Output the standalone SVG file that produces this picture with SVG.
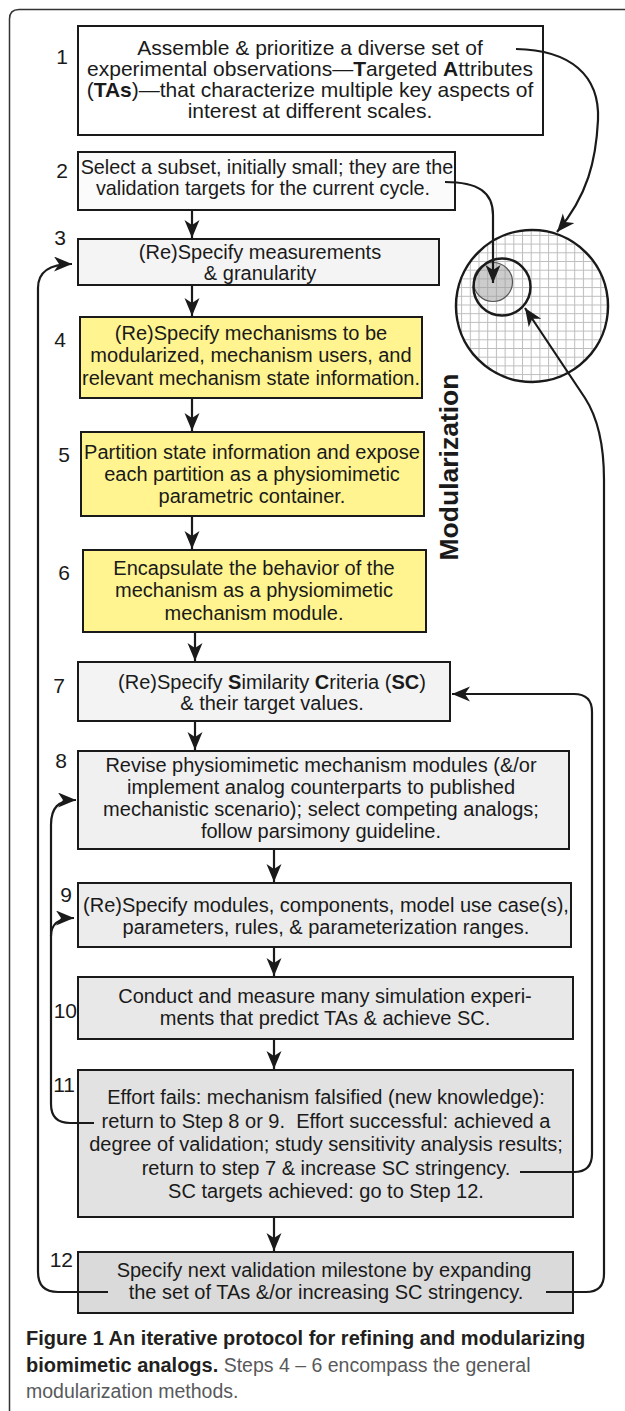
<svg xmlns="http://www.w3.org/2000/svg" width="625" height="1411" viewBox="0 0 625 1411">
<defs>
<style>
.box{stroke:#1a1a1a;stroke-width:2}
.t{font-family:"Liberation Sans",Arial,sans-serif;font-size:20px;fill:#1a1a1a;text-anchor:middle}
.t1{font-size:21px}
.t2{font-size:19.8px}
.n{font-family:"Liberation Sans",Arial,sans-serif;font-size:21px;fill:#1a1a1a;text-anchor:middle}
.ne{text-anchor:end}
.b{font-weight:bold}
.c{fill:none;stroke:#1a1a1a;stroke-width:2.2}
.ca{marker-end:url(#ah)}
.cap{font-family:"Liberation Sans",Arial,sans-serif;font-size:19.5px;fill:#58595b}
.capb{font-weight:bold;fill:#231f20;font-size:20px}
</style>
<marker id="ah" markerUnits="userSpaceOnUse" markerWidth="19" markerHeight="16" refX="18" refY="7.5" orient="auto"><path d="M0,0 L18,7.5 L0,15 L5,7.5 z" fill="#1a1a1a"/></marker>
<pattern id="grid" patternUnits="userSpaceOnUse" width="8.7" height="8.7"><rect width="8.7" height="8.7" fill="#fff"/><path d="M0,0.5 H8.7 M0.5,0 V8.7" stroke="#bdbdbd" stroke-width="1"/></pattern>
</defs>
<rect width="625" height="1411" fill="#fff"/>
<path d="M9.5,1411 V19 Q9.5,9.5 19,9.5 H625" fill="none" stroke="#333" stroke-width="1.5"/>

<g id="circles">
<circle cx="532" cy="306" r="76" fill="url(#grid)" stroke="#1a1a1a" stroke-width="2.5"/>
<circle cx="493" cy="282" r="19.5" fill="#9a9a9a" fill-opacity="0.5" stroke="#555" stroke-width="1.2"/>
<circle cx="502" cy="287" r="28.5" fill="none" stroke="#1a1a1a" stroke-width="2.5"/>
</g>

<g id="step1">
<rect class="box" x="78" y="26" width="465" height="109" fill="#fff"/>
<text class="n" x="62" y="64">1</text>
<text class="t t1" x="310" y="55">Assemble &amp; prioritize a diverse set of</text>
<text class="t t1" x="310" y="76">experimental observations—<tspan class="b">T</tspan>argeted <tspan class="b">A</tspan>ttributes</text>
<text class="t t1" x="310" y="97">(<tspan class="b">TAs</tspan>)—that characterize multiple key aspects of</text>
<text class="t t1" x="310" y="118">interest at different scales.</text>
</g>

<g id="step2">
<rect class="box" x="78" y="152" width="377" height="58" fill="#fbfbfb"/>
<text class="n" x="62" y="178">2</text>
<text class="t t2" x="267" y="174">Select a subset, initially small; they are the</text>
<text class="t t2" x="263" y="195">validation targets for the current cycle.</text>
</g>

<g id="step3">
<rect class="box" x="78" y="239" width="361" height="46" fill="#f4f4f4"/>
<text class="n" x="60" y="245">3</text>
<text class="t" x="260" y="258.5">(Re)Specify measurements</text>
<text class="t" x="260" y="279.5">&amp; granularity</text>
</g>

<g id="step4">
<rect class="box" x="80" y="317" width="342" height="81" fill="#fff48f"/>
<text class="n" x="60" y="347">4</text>
<text class="t" x="251" y="340">(Re)Specify mechanisms to be</text>
<text class="t" x="251" y="362">modularized, mechanism users, and</text>
<text class="t" x="251" y="385">relevant mechanism state information.</text>
</g>

<g id="step5">
<rect class="box" x="81" y="432" width="343" height="84" fill="#fff48f"/>
<text class="n" x="64" y="462">5</text>
<text class="t" x="252" y="459">Partition state information and expose</text>
<text class="t" x="252" y="481">each partition as a physiomimetic</text>
<text class="t" x="252" y="503">parametric container.</text>
</g>

<g id="step6">
<rect class="box" x="83" y="550" width="343" height="82" fill="#fff48f"/>
<text class="n" x="64" y="580">6</text>
<text class="t" x="254" y="575">Encapsulate the behavior of the</text>
<text class="t" x="254" y="597">mechanism as a physiomimetic</text>
<text class="t" x="254" y="620">mechanism module.</text>
</g>

<g id="modularization">
<text transform="translate(458,467) rotate(-90)" text-anchor="middle" font-family="Liberation Sans, Arial, sans-serif" font-size="26.5" font-weight="bold" fill="#1a1a1a">Modularization</text>
</g>

<g id="step7">
<rect class="box" x="78" y="662" width="372" height="59" fill="#f3f3f3"/>
<text class="n" x="59" y="693">7</text>
<text class="t" x="272" y="689">(Re)Specify <tspan class="b">S</tspan>imilarity <tspan class="b">C</tspan>riteria (<tspan class="b">SC</tspan>)</text>
<text class="t" x="272" y="710">&amp; their target values.</text>
</g>

<g id="step8">
<rect class="box" x="78" y="751" width="491" height="98" fill="#f0f0f0"/>
<text class="n" x="61" y="768">8</text>
<text class="t" x="321" y="772">Revise physiomimetic mechanism modules (&amp;/or</text>
<text class="t" x="321" y="794">implement analog counterparts to published</text>
<text class="t" x="321" y="816">mechanistic scenario); select competing analogs;</text>
<text class="t" x="321" y="838">follow parsimony guideline.</text>
</g>

<g id="step9">
<rect class="box" x="78" y="883" width="493" height="64" fill="#ececec"/>
<text class="n" x="66" y="902">9</text>
<text class="t" x="326" y="912">(Re)Specify modules, components, model use case(s),</text>
<text class="t" x="326" y="934">parameters, rules, &amp; parameterization ranges.</text>
</g>

<g id="step10">
<rect class="box" x="78" y="977" width="495" height="62" fill="#e8e8e8"/>
<text class="n ne" x="77" y="1018">10</text>
<text class="t" x="325" y="1003">Conduct and measure many simulation experi-</text>
<text class="t" x="325" y="1025">ments that predict TAs &amp; achieve SC.</text>
</g>

<g id="step11">
<rect class="box" x="78" y="1070" width="495" height="147" fill="#e2e2e2"/>
<text class="n ne" x="75" y="1092">11</text>
<text class="t" x="326" y="1104">Effort fails: mechanism falsified (new knowledge):</text>
<text class="t" x="326" y="1127.5">return to Step 8 or 9.&#160; Effort successful: achieved a</text>
<text class="t" x="326" y="1151">degree of validation; study sensitivity analysis results;</text>
<text class="t" x="326" y="1174.5">return to step 7 &amp; increase SC stringency.</text>
<text class="t" x="326" y="1198">SC targets achieved: go to Step 12.</text>
</g>

<g id="step12">
<rect class="box" x="78" y="1252" width="495" height="61" fill="#dadada"/>
<text class="n ne" x="73" y="1267">12</text>
<text class="t" x="324" y="1277">Specify next validation milestone by expanding</text>
<text class="t" x="326" y="1299">the set of TAs &amp;/or increasing SC stringency.</text>
</g>

<g id="connectors">
<path class="c ca" d="M192,210 V238"/>
<path class="c ca" d="M192,285 V316"/>
<path class="c ca" d="M192,398 V431"/>
<path class="c ca" d="M192,516 V549"/>
<path class="c ca" d="M195,632 V661"/>
<path class="c ca" d="M195,721 V750"/>
<path class="c ca" d="M274,849 V882"/>
<path class="c ca" d="M274,947 V976"/>
<path class="c ca" d="M274,1039 V1069"/>
<path class="c ca" d="M274,1217 V1251"/>
<path class="c ca" d="M516,49 C570,50 600,75 598,120 C596,160 588,195 557,232"/>
<path class="c ca" d="M445,182 C478,182 493,192 493,215 V283"/>
<path class="c ca" d="M94,1123 H70 Q51,1123 51,1104 V825 C51,808 58,800 76,800"/>
<path class="c ca" d="M51,936 C51,924 58,918 74,918"/>
<path class="c ca" d="M108,1292 H58 Q38,1292 38,1272 V288 C38,272 50,264 72,264"/>
<path class="c ca" d="M520,1172 H574 Q592,1172 592,1154 V712 Q592,694 574,694 H452"/>
<path class="c ca" d="M546,1292 H586 Q604,1292 604,1274 V480 C604,440 596,415 585,398 L525,308"/>
</g>

<g id="caption">
<text class="cap capb" x="26" y="1345">Figure 1 An iterative protocol for refining and modularizing</text>
<text class="cap" x="26" y="1372"><tspan class="capb">biomimetic analogs.</tspan> Steps 4 – 6 encompass the general</text>
<text class="cap" x="26" y="1398">modularization methods.</text>
</g>
</svg>
